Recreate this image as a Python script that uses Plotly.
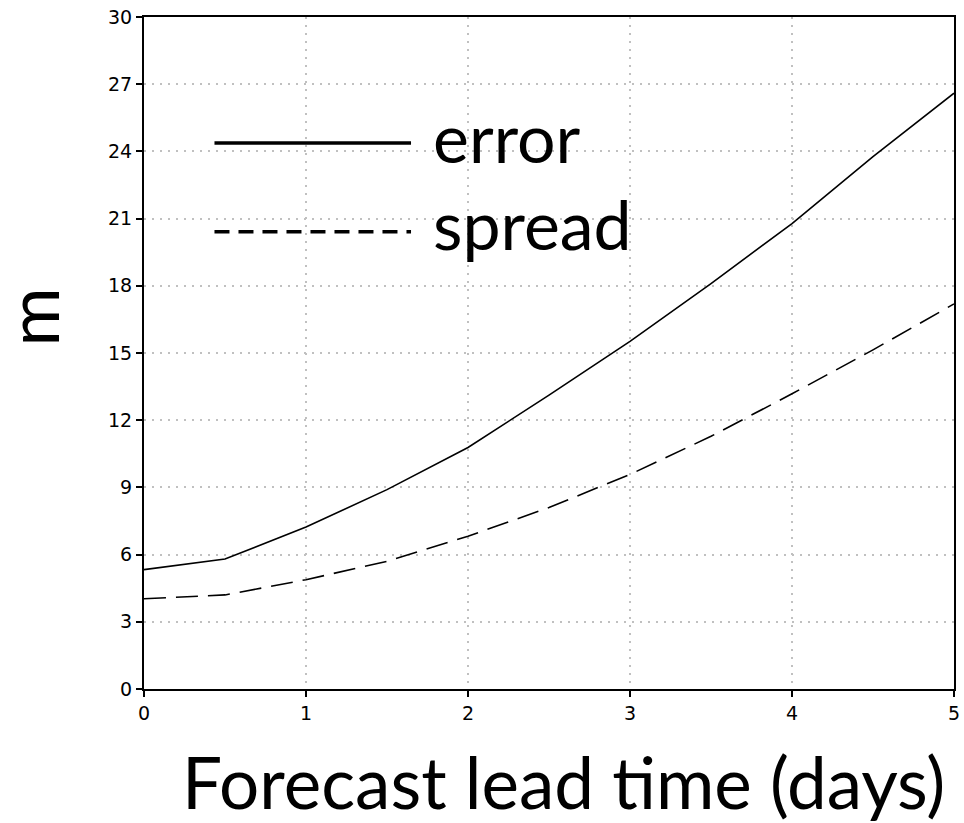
import plotly.graph_objects as go

lead_days = [0, 0.5, 1, 1.5, 2, 2.5, 3, 3.5, 4, 4.5, 5]
error_m = [5.33, 5.8, 7.23, 8.9, 10.78, 13.12, 15.52, 18.1, 20.78, 23.77, 26.6]
spread_m = [4.03, 4.2, 4.88, 5.7, 6.82, 8.1, 9.58, 11.28, 13.18, 15.14, 17.19]
y_ticks = list(range(0, 31, 3))
x_ticks = [0, 1, 2, 3, 4, 5]

W, H = 964, 823
L, R, T, B = 144, 4, 17, 133.5
pw, ph = W - L - R, H - T - B


def px(x):
    return (x - L) / pw


def py(y):
    return (H - B - y) / ph


fig = go.Figure()
fig.add_trace(go.Scatter(x=lead_days, y=error_m, mode="lines", name="error",
                         line=dict(color="black", width=1.6), showlegend=False))
fig.add_trace(go.Scatter(x=lead_days, y=spread_m, mode="lines", name="spread",
                         line=dict(color="black", width=1.6, dash="22px,10px"),
                         showlegend=False))

# legend drawn manually
fig.add_shape(type="line", xref="paper", yref="paper", x0=px(215), x1=px(413),
              y0=py(143), y1=py(143), line=dict(color="black", width=3.5))
fig.add_shape(type="line", xref="paper", yref="paper", x0=px(215), x1=px(413),
              y0=py(232), y1=py(232), line=dict(color="black", width=3.5, dash="15px,9px"))
big_font = dict(family="Lato", size=68, color="black")
fig.add_annotation(text="error", xref="paper", yref="paper", x=px(433), y=py(137),
                   xanchor="left", yanchor="middle", showarrow=False, font=big_font)
fig.add_annotation(text="spread", xref="paper", yref="paper", x=px(433), y=py(224),
                   xanchor="left", yanchor="middle", showarrow=False, font=big_font)
# y-axis title
fig.add_annotation(text="m", xref="paper", yref="paper", x=px(30), y=py(317),
                   xanchor="center", yanchor="middle", textangle=-90, showarrow=False,
                   font=dict(family="Lato", size=72, color="black"))
# x-axis title
fig.add_annotation(text="Forecast lead time (days)", xref="paper", yref="paper",
                   x=px(567), y=py(782), xanchor="center", yanchor="middle",
                   showarrow=False, font=dict(family="Lato", size=71, color="black"))

tick_font = dict(family="DejaVu Sans", size=19, color="black")
grid_col = "#c0c0c0"

fig.update_layout(
    width=W, height=H,
    margin=dict(l=L, r=R, t=T, b=B),
    paper_bgcolor="white", plot_bgcolor="white",
    font=dict(family="DejaVu Sans", size=19, color="black"),
    xaxis=dict(range=[0, 5], tickvals=x_ticks, ticktext=[str(v) for v in x_ticks],
               tickfont=tick_font, ticklabeloverflow="allow",
               showgrid=True, gridcolor=grid_col, griddash="2px,6px", gridwidth=1.5,
               showline=True, linecolor="black", linewidth=2, mirror=True,
               ticks="outside", ticklen=6, tickcolor="black", tickwidth=1.5,
               zeroline=False),
    yaxis=dict(range=[0, 30], tickvals=y_ticks, ticktext=[str(v) for v in y_ticks],
               tickfont=tick_font,
               showgrid=True, gridcolor=grid_col, griddash="2px,6px", gridwidth=1.5,
               showline=True, linecolor="black", linewidth=2, mirror=True,
               ticks="outside", ticklen=6, tickcolor="black", tickwidth=1.5,
               zeroline=False),
)

fig.write_html("out.html")
